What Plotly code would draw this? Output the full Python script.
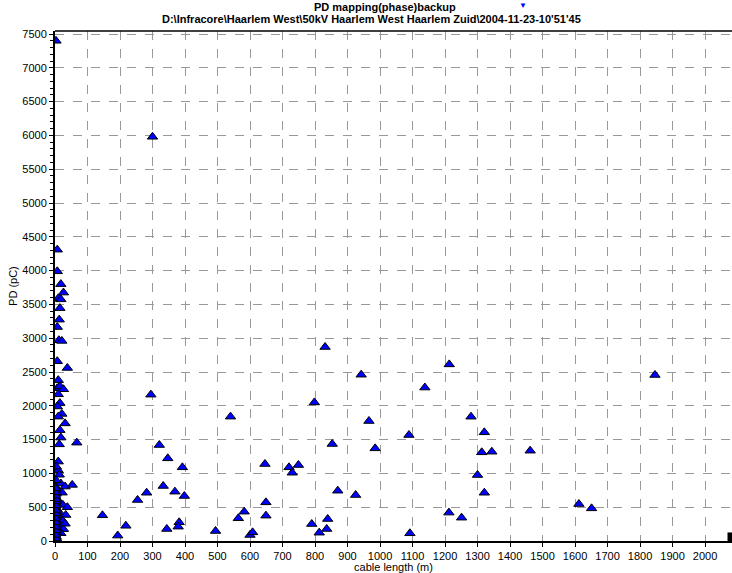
import plotly.graph_objects as go

# Partial-discharge locations: cable position (m) and discharge magnitude (pC)
cable_m = [
    3, 300,
    7, 7, 18, 26, 10, 18, 15, 13, 7, 12, 21, 7, 38, 10, 7, 15, 26, 10,
    15, 7, 21, 10, 31, 15, 18, 13, 67, 10, 10, 13, 18, 31, 53, 22, 8, 24,
    38, 15, 33, 24, 31, 13, 26, 18, 146, 193, 218, 254, 282, 295,
    321, 347, 392, 333, 369, 398, 344, 382, 379, 494, 540, 646, 649, 649,
    582, 564, 600, 608, 720, 730, 749, 790, 813, 836, 839, 853, 870, 925,
    985, 966, 1089, 1092, 1212, 798, 831, 942, 1138, 1213, 1280, 1321,
    1313, 1344, 1462, 1300, 1321, 1251, 1612, 1651, 1846,
    # dense group right at the cable end
    2, 4, 1, 3, 5, 2, 4, 1, 3, 5, 2, 4, 1, 3, 2, 4, 1, 3, 2, 5, 1, 3, 5,
    0, 0, 0, 6, 6, 2, 4,
    0, 0, 0, 0, 0, 0, 0, 0, 0, 0, 0, 0, 0, 0,
    1, 1, 1, 1, 1, 1, 1, 1, 1, 1, 1, 1, 1, 1,
]
pd_pc = [
    7400, 5980,
    4310, 3990, 3800, 3675, 3590, 3575, 3445, 3275, 3165, 2970, 2960, 2660,
    2560, 2380, 2260, 2290, 2245, 2170, 2040, 1990, 1880, 1840, 1740, 1640,
    1530, 1430, 1455, 1175, 1045, 980, 850, 805, 830, 715, 610, 535, 500,
    415, 385, 300, 255, 215, 175, 115, 380, 80, 225, 607, 714, 2165,
    1420, 1223, 1090, 814, 730, 666, 178, 277, 212, 148, 1840, 1139, 572,
    375, 434, 336, 89, 128, 1090, 1010, 1124, 251, 123, 178, 325, 1435, 744,
    680, 1371, 1775, 1568, 114, 420, 2050, 2870, 2460, 2270, 2613, 1839,
    1608, 1312, 1321, 1336, 976, 714, 345, 547, 483, 2456,
    20, 60, 100, 140, 180, 230, 270, 310, 350, 395, 440, 480, 520, 560, 650,
    700, 760, 900, 0, 30, 200, 420, 600, 50, 300, 480, 120, 380, 800, 1100,
    10, 70, 130, 190, 250, 320, 390, 450, 510, 570, 630, 690, 740, 790,
    40, 90, 160, 210, 280, 340, 410, 460, 530, 590, 620, 670, 720, 780,
]

x_max = 2083
y_max = 7545
font = "Liberation Sans, Arial, sans-serif"

fig = go.Figure()

fig.add_trace(go.Scatter(
    x=cable_m, y=pd_pc, mode="markers",
    marker=dict(symbol="triangle-up", size=9, color="#0000ff",
                line=dict(color="black", width=1)),
    showlegend=False, hoverinfo="x+y",
))

# end-of-cable cursor on the x axis
fig.add_trace(go.Scatter(
    x=[x_max], y=[60], mode="markers",
    marker=dict(symbol="square", size=9, color="black",
                line=dict(color="black", width=0)),
    showlegend=False, hoverinfo="skip",
))

axis_common = dict(
    showgrid=True, gridcolor="#999999", griddash="dash", gridwidth=1,
    showline=True, linecolor="black", zeroline=False,
    ticks="outside", ticklen=4, tickcolor="black",
    tickfont=dict(family=font, size=11, color="black"),
)

fig.update_xaxes(
    range=[0, x_max], dtick=100, tick0=0, linewidth=2,
    title=dict(text="cable length (m)", font=dict(family=font, size=11, color="black"),
               standoff=4),
    **axis_common,
)
fig.update_yaxes(
    range=[0, y_max], dtick=500, tick0=0, linewidth=2,
    minor=dict(dtick=100, ticks="outside", ticklen=3, tickcolor="black", showgrid=False),
    **axis_common,
)

# y axis title placed explicitly, left of the tick labels
fig.add_annotation(
    text="PD (pC)", xref="paper", yref="paper", x=-0.0621, y=0.5,
    textangle=-90, xanchor="center", yanchor="middle", showarrow=False,
    font=dict(family=font, size=11, color="black"),
)

# top frame line
fig.add_shape(type="line", xref="paper", yref="paper", x0=0, x1=1, y0=1, y1=1,
              line=dict(color="black", width=1.5))

fig.add_annotation(
    text="<b>PD mapping(phase)backup</b>", xref="paper", yref="paper",
    x=0.487, y=1.0, yshift=24.5, xanchor="center", yanchor="middle", showarrow=False,
    font=dict(family=font, size=11, color="black"),
)
fig.add_annotation(
    text="\u25bc", xref="paper", yref="paper", x=0.691, y=1.0,
    yshift=26, xanchor="center", yanchor="middle", showarrow=False,
    font=dict(family=font, size=8, color="#0000ff"),
)
fig.add_annotation(
    text="<b>D:\\Infracore\\Haarlem West\\50kV Haarlem West Haarlem Zuid\\2004-11-23-10'51'45</b>",
    xref="paper", yref="paper", x=0.468, y=1.0, yshift=12,
    xanchor="center", yanchor="middle", showarrow=False,
    font=dict(family=font, size=11, color="black"),
)

fig.update_layout(
    width=732, height=573,
    margin=dict(l=55, r=0, t=31, b=32),
    plot_bgcolor="white", paper_bgcolor="white",
    font=dict(family=font, size=11, color="black"),
)

fig.write_html("out.html")
